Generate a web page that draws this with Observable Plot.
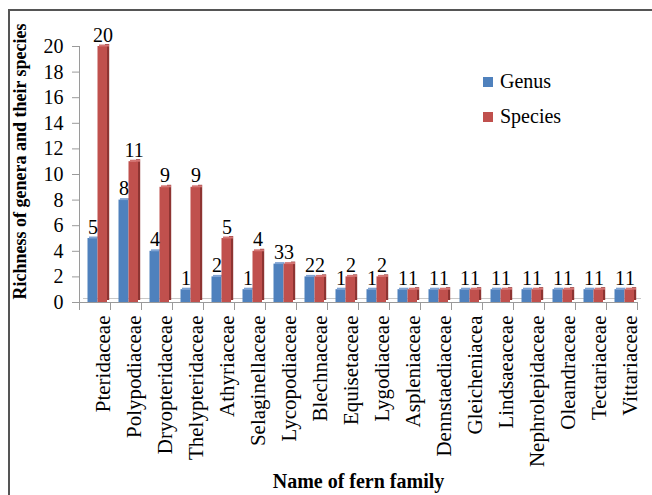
<!DOCTYPE html>
<html><head><meta charset="utf-8">
<script src="https://cdn.jsdelivr.net/npm/d3@7"></script>
<script src="https://cdn.jsdelivr.net/npm/@observablehq/plot@0.6"></script>
<style>
body{margin:0;background:#fff;}
#wrap{position:relative;width:652px;height:495px;overflow:hidden;font-family:"Liberation Serif",serif;}
#chart{position:absolute;left:0;top:0;}
#chart svg, #chart svg text{font-family:"Liberation Serif",serif;}
.bt{position:absolute;left:8px;top:9px;width:700px;height:2px;background:#555;}
.bl{position:absolute;left:8px;top:9px;width:2px;height:600px;background:#555;}
#legend{position:absolute;left:483px;top:64px;font-size:20px;color:#000;font-family:"Liberation Serif",serif;}
.item{display:flex;align-items:center;height:35px;}
.sw{width:10px;height:10px;margin-right:7px;}
</style></head><body>
<div id="wrap"><div id="chart"></div><div class="bt"></div><div class="bl"></div><div id="legend"></div></div>
<script>
const families = ["Pteridaceae","Polypodiaceae","Dryopteridaceae","Thelypteridaceae","Athyriaceae","Selaginellaceae","Lycopodiaceae","Blechnaceae","Equisetaceae","Lygodiaceae","Aspleniaceae","Dennstaediaceae","Gleicheniacea","Lindsaeaceae","Nephrolepidaceae","Oleandraceae","Tectariaceae","Vittariaceae"];
const genus   = [5, 8, 4, 1, 2, 1, 3, 2, 1, 1, 1, 1, 1, 1, 1, 1, 1, 1];
const species = [20, 11, 9, 9, 5, 4, 3, 2, 2, 2, 1, 1, 1, 1, 1, 1, 1, 1];
const yTicks = [0, 2, 4, 6, 8, 10, 12, 14, 16, 18, 20];
const seriesNames = ["Genus", "Species"];
const seriesColors = ["#4F81BD", "#C0504D"];
const yTitle = "Richness of genera and their species";
const xTitle = "Name of fern family";

const rows = families.map((f, i) => ({family: f, genus: genus[i], species: species[i]}));

const W = 652, H = 495, mL = 79, mR = 15, mT = 46, mB = 193;
const bw = (W - mL - mR) / families.length;
const axisGray = "#9a9a9a";

const chart = Plot.plot({
  width: W, height: H,
  marginLeft: mL, marginRight: mR, marginTop: mT, marginBottom: mB,
  style: {fontFamily: "Liberation Serif, serif", fontSize: "19px", color: "#000", background: "transparent"},
  x: {type: "band", domain: families, padding: 0},
  y: {domain: [0, d3.max(yTicks)]},
  marks: [
    Plot.ruleY([0], {stroke: "#c8c8c8", dx: 4, dy: -4}),
    Plot.ruleY([0], {stroke: axisGray}),
    Plot.ruleX(families, {x: d => d, dx: -bw / 2, y1: 0, y2: 0, insetBottom: -8, stroke: axisGray}),
    Plot.ruleX(families.slice(-1), {x: d => d, dx: bw / 2, y1: 0, y2: 0, insetBottom: -8, stroke: axisGray}),
    Plot.ruleX(families.slice(0, 1), {x: d => d, dx: -bw / 2, y1: 0, y2: d3.max(yTicks), stroke: axisGray}),
    Plot.barY(rows, {x: "family", y: "genus", fill: seriesColors[0], insetLeft: 8.5, insetRight: bw - 18.5}),
    Plot.tickY(rows, {x: "family", y: "genus", stroke: "#7FA3D3", strokeWidth: 2, insetLeft: 10, insetRight: bw - 19.5, dy: -1}),
    Plot.barY(rows, {x: "family", y: "species", fill: "#8E3432", insetLeft: 26, insetRight: 0.8, dy: -2}),
    Plot.barY(rows, {x: "family", y: "species", fill: seriesColors[1], insetLeft: 18.5, insetRight: bw - 28}),
    Plot.tickY(rows, {x: "family", y: "species", stroke: "#D47573", strokeWidth: 2, insetLeft: 20, insetRight: bw - 30, dy: -1}),
    Plot.text(rows, {x: "family", y: "genus", text: d => String(d.genus), dx: 13.5 - bw / 2, dy: -5, lineAnchor: "bottom", fontSize: 20}),
    Plot.text(rows, {x: "family", y: "species", text: d => String(d.species), dx: 23.5 - bw / 2, dy: -5, lineAnchor: "bottom", fontSize: 20}),
    Plot.axisX({tickSize: 0, tickPadding: 13, rotate: -90, textAnchor: "end", fontSize: 21, label: null}),
    Plot.axisY({ticks: yTicks, tickSize: 7, tickPadding: 9, fontSize: 20, label: null, stroke: axisGray, fill: "#000"}),
    Plot.text([yTitle], {frameAnchor: "left", textAnchor: "middle", dx: -59, dy: -13, rotate: -90, fontWeight: "bold", fontSize: 18}),
    Plot.text([xTitle], {frameAnchor: "bottom", dy: 185, fontWeight: "bold", fontSize: 20})
  ]
});
document.getElementById("chart").appendChild(chart);

const legend = document.getElementById("legend");
seriesNames.forEach((name, i) => {
  const item = document.createElement("div");
  item.className = "item";
  const sw = document.createElement("div");
  sw.className = "sw";
  sw.style.background = seriesColors[i];
  const t = document.createElement("span");
  t.textContent = name;
  item.appendChild(sw); item.appendChild(t);
  legend.appendChild(item);
});
</script>
</body></html>
